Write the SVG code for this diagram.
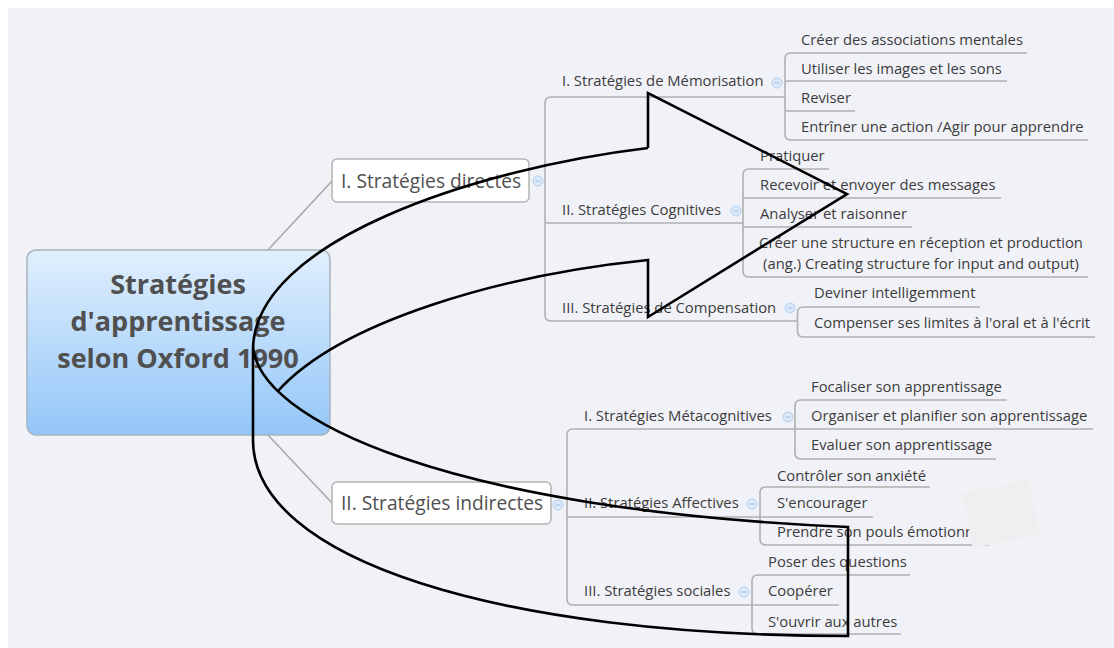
<svg xmlns="http://www.w3.org/2000/svg" width="1114" height="648" viewBox="0 0 1114 648">
<defs>
<linearGradient id="cg" x1="0" y1="0" x2="0" y2="1">
<stop offset="0" stop-color="#e1effd"/>
<stop offset="1" stop-color="#93c6f8"/>
</linearGradient>
<g id="ico">
<circle r="5" fill="#dbe8f7" stroke="#b3d0f0" stroke-width="1"/>
<line x1="-2.5" y1="0" x2="2.5" y2="0" stroke="#9fc0e8" stroke-width="1"/>
</g>
</defs>
<style>
.ln{fill:none;stroke:#a9a9a9;stroke-width:1.6}
.br{fill:none;stroke:#b0b0b0;stroke-width:1.6}
.box{fill:#ffffff;stroke:#b4b4b4;stroke-width:1.5}
.t1{font-family:"Open Sans","Noto Sans",sans-serif;font-size:19.2px;fill:#505050}
.t2{font-family:"Open Sans","Noto Sans",sans-serif;font-size:14.8px;fill:#3c3c3c}
.t0{font-family:"Open Sans","Noto Sans",sans-serif;font-size:27px;font-weight:bold;fill:#505050;text-anchor:middle}
.ar{fill:none;stroke:#000;stroke-width:2.6;stroke-linejoin:miter}
</style>
<rect x="0" y="0" width="1114" height="648" fill="#ffffff"/>
<rect x="8" y="8" width="1106" height="640" fill="#f1f2f7"/>

<g id="connectors">
<line class="ln" x1="268" y1="250" x2="332" y2="181"/>
<line class="ln" x1="268" y1="435" x2="332" y2="503"/>
<path class="br" d="M785,97 H551 Q545,97 545,103 V315 Q545,321 551,321 H797"/>
<path class="br" d="M545,223 H743"/>
<path class="br" d="M1027,53 H791 Q785,53 785,59 V134 Q785,140 791,140 H1088"/>
<path class="br" d="M785,81 H1007 M785,111 H855"/>
<path class="br" d="M829,169 H749 Q743,169 743,175 V271 Q743,277 749,277 H1088"/>
<path class="br" d="M743,198 H1001 M743,227 H912"/>
<path class="br" d="M980,307 H803 Q797.5,307 797.5,313 V331 Q797.5,337 803,337 H1095"/>
<path class="br" d="M795,429 H573 Q567,429 567,435 V599 Q567,605 573,605 H752"/>
<path class="br" d="M567,517 H760"/>
<path class="br" d="M1007,400 H801 Q795,400 795,406 V453 Q795,459 801,459 H996"/>
<path class="br" d="M795,429 H1093"/>
<path class="br" d="M930,487 H766 Q760,487 760,493 V539 Q760,545 766,545 H989"/>
<path class="br" d="M760,517 H873"/>
<path class="br" d="M910,575 H758 Q752,575 752,581 V628 Q752,634 758,634 H901"/>
<path class="br" d="M752,605 H839"/>
</g>

<g id="central">
<rect x="27" y="250" width="303" height="185" rx="9" fill="url(#cg)" stroke="#a8b3c0" stroke-width="1.5"/>
<text class="t0" x="178" y="294">Stratégies</text>
<text class="t0" x="178" y="331">d'apprentissage</text>
<text class="t0" x="178" y="368">selon Oxford 1990</text>
</g>

<g id="directes">
<rect class="box" x="332" y="159" width="197" height="43" rx="5"/>
<text class="t1" x="341" y="188">I. Stratégies directes</text>
<use href="#ico" x="538" y="181"/>
</g>
<g id="indirectes">
<rect class="box" x="332" y="482" width="219" height="42" rx="5"/>
<text class="t1" x="341" y="510">II. Stratégies indirectes</text>
<use href="#ico" x="558" y="505"/>
</g>

<g id="memorisation">
<text class="t2" x="562" y="86">I. Stratégies de Mémorisation</text>
<use href="#ico" x="777" y="83"/>
</g>
<g id="cognitives">
<text class="t2" x="562" y="215">II. Stratégies Cognitives</text>
<use href="#ico" x="736" y="211"/>
</g>
<g id="compensation">
<text class="t2" x="562" y="313">III. Stratégies de Compensation</text>
<use href="#ico" x="790" y="308"/>
</g>
<g id="metacognitives">
<text class="t2" x="584" y="421">I. Stratégies Métacognitives</text>
<use href="#ico" x="788" y="417"/>
</g>
<g id="affectives">
<text class="t2" x="584" y="508">II. Stratégies Affectives</text>
<use href="#ico" x="752" y="504"/>
</g>
<g id="sociales">
<text class="t2" x="584" y="596">III. Stratégies sociales</text>
<use href="#ico" x="744" y="592"/>
</g>

<g id="leaf-m1"><text class="t2" x="801" y="45">Créer des associations mentales</text></g>
<g id="leaf-m2"><text class="t2" x="801" y="74">Utiliser les images et les sons</text></g>
<g id="leaf-m3"><text class="t2" x="801" y="103">Reviser</text></g>
<g id="leaf-m4"><text class="t2" x="801" y="132">Entrîner une action /Agir pour apprendre</text></g>
<g id="leaf-c1"><text class="t2" x="760" y="161">Pratiquer</text></g>
<g id="leaf-c2"><text class="t2" x="760" y="190">Recevoir et envoyer des messages</text></g>
<g id="leaf-c3"><text class="t2" x="760" y="219">Analyser et raisonner</text></g>
<g id="leaf-c4"><text class="t2" x="921" y="248" text-anchor="middle">Créer une structure en réception et production</text>
<text class="t2" x="921" y="269" text-anchor="middle">(ang.) Creating structure for input and output)</text></g>
<g id="leaf-p1"><text class="t2" x="814" y="298">Deviner intelligemment</text></g>
<g id="leaf-p2"><text class="t2" x="814" y="328">Compenser ses limites à l'oral et à l'écrit</text></g>
<g id="leaf-mc1"><text class="t2" x="811" y="392">Focaliser son apprentissage</text></g>
<g id="leaf-mc2"><text class="t2" x="811" y="421">Organiser et planifier son apprentissage</text></g>
<g id="leaf-mc3"><text class="t2" x="811" y="450">Evaluer son apprentissage</text></g>
<g id="leaf-a1"><text class="t2" x="777" y="481">Contrôler son anxiété</text></g>
<g id="leaf-a2"><text class="t2" x="777" y="508">S'encourager</text></g>
<g id="leaf-a3"><text class="t2" x="777" y="537">Prendre son pouls émotionn</text></g>
<g id="leaf-s1"><text class="t2" x="768" y="567">Poser des questions</text></g>
<g id="leaf-s2"><text class="t2" x="768" y="596">Coopérer</text></g>
<g id="leaf-s3"><text class="t2" x="768" y="627">S'ouvrir aux autres</text></g>

<polygon points="962,493 1028,480 1040,535 973,548" fill="#efefef"/>

<g id="curved-arrow">
<path class="ar" d="M648,148 C480,168 253,240 253,350 L253,440 C253,560 500,636 848,636 L848,527 C450,510 256,420 253,345"/>
<path class="ar" d="M648,148 L648,93 L847,194 L648,317 L648,260 C500,275 340,322 278,391"/>
</g>
</svg>
